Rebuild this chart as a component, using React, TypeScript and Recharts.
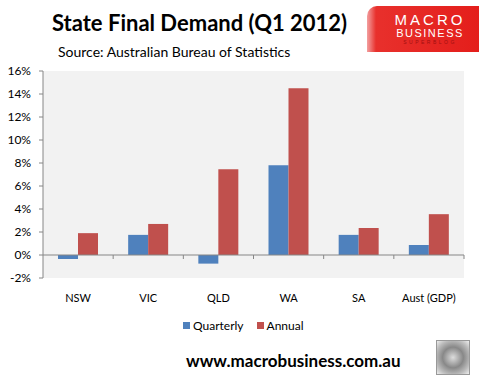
import { BarChart, Bar, XAxis, YAxis, CartesianGrid, ReferenceLine } from 'recharts';

const regions = ['NSW', 'VIC', 'QLD', 'WA', 'SA', 'Aust (GDP)'];
const quarterly = [-0.35, 1.75, -0.75, 7.8, 1.75, 0.87];
const annual = [1.9, 2.7, 7.45, 14.5, 2.35, 3.55];
const yTicks = [-2, 0, 2, 4, 6, 8, 10, 12, 14, 16];
const seriesNames = ['Quarterly', 'Annual'];

const data = regions.map((r, i) => ({ region: r, Quarterly: quarterly[i], Annual: annual[i] }));

const BLUE = '#4f81bd';
const RED = '#c0504d';
const AXIS = '#868686';
const FONT = 'Lato, "Open Sans", sans-serif';

// zero line with the little category separator ticks hanging below it
function ZeroLine(props: any) {
  const { x1, x2, y1 } = props;
  const n = regions.length;
  const step = (x2 - x1) / n;
  const ticks = [];
  for (let i = 1; i <= n; i++) {
    const x = x1 + step * i;
    ticks.push(<line key={i} x1={x} x2={x} y1={y1} y2={y1 + 4} stroke={AXIS} />);
  }
  return (
    <g>
      <line x1={x1} x2={x2} y1={y1} y2={y1} stroke={AXIS} />
      {ticks}
    </g>
  );
}

export default function App() {
  const colors = [BLUE, RED];
  return (
    <div style={{ position: 'fixed', left: 0, top: 0, width: 488, height: 383, background: '#fff', fontFamily: FONT }}>
      <div style={{ position: 'absolute', left: 52, top: 9, fontSize: 22, fontWeight: 700, color: '#000', whiteSpace: 'nowrap' }}>
        State Final Demand (Q1 2012)
      </div>
      <div style={{ position: 'absolute', left: 58, top: 43, fontSize: 14, color: '#000', whiteSpace: 'nowrap' }}>
        Source: Australian Bureau of Statistics
      </div>
      <div style={{
        position: 'absolute', left: 367, top: 6, width: 112, height: 46,
        background: 'linear-gradient(90deg, #f3a0a0 0%, #e8302c 8%, #e41e1b 100%)',
        borderTopLeftRadius: 10, textAlign: 'center', fontFamily: 'Liberation Sans, sans-serif',
      }}>
        <div style={{ color: '#fff', fontSize: 15, letterSpacing: 3, marginTop: 6, lineHeight: '15px', paddingLeft: 14 }}>MACRO</div>
        <div style={{ color: '#fff', fontSize: 11, letterSpacing: 1.5, lineHeight: '12px', paddingLeft: 14 }}>BUSINESS</div>
        <div style={{ color: '#a01010', fontSize: 5, letterSpacing: 2.5, lineHeight: '7px', paddingLeft: 14 }}>SUPERBLOG</div>
      </div>

      <div style={{ position: 'absolute', left: 0, top: 0 }}>
        <BarChart width={488} height={383} data={data}
          margin={{ top: 71, right: 24, bottom: 75, left: 0 }}
          barCategoryGap={15} barGap={0}>
          <CartesianGrid horizontal={false} vertical={false} fill="#f2f2f2" />
          <XAxis dataKey="region" axisLine={false} tickLine={false} height={30}
            tickMargin={10} tick={{ fontSize: 11, fill: '#000', fontFamily: FONT }} interval={0} />
          <YAxis domain={[-2, 16]} ticks={yTicks} width={43} stroke={AXIS}
            tickFormatter={(v: number) => `${v}%`} tickSize={4} tickMargin={8}
            tick={{ fontSize: 12, fill: '#000', fontFamily: FONT }} />
          <Bar dataKey="Quarterly" fill={BLUE} isAnimationActive={false} />
          <Bar dataKey="Annual" fill={RED} isAnimationActive={false} />
          <ReferenceLine y={0} shape={ZeroLine} />
        </BarChart>
      </div>

      <div style={{ position: 'absolute', left: 183, top: 318, fontSize: 12, display: 'flex', gap: 13, alignItems: 'center' }}>
        {seriesNames.map((s, i) => (
          <span key={s} style={{ display: 'flex', alignItems: 'center' }}>
            <span style={{ width: 7, height: 7, background: colors[i], marginRight: 3 }} />
            {s}
          </span>
        ))}
      </div>

      <div style={{ position: 'absolute', left: 186, top: 350, fontSize: 17, fontWeight: 700, color: '#000', whiteSpace: 'nowrap' }}>
        www.macrobusiness.com.au
      </div>
      <div style={{
        position: 'absolute', left: 436, top: 340, width: 32, height: 33, border: '1px solid #999',
        background: 'radial-gradient(circle at 50% 50%, #ddd 0%, #888 45%, #bbb 75%, #eee 100%)',
      }} />
    </div>
  );
}
